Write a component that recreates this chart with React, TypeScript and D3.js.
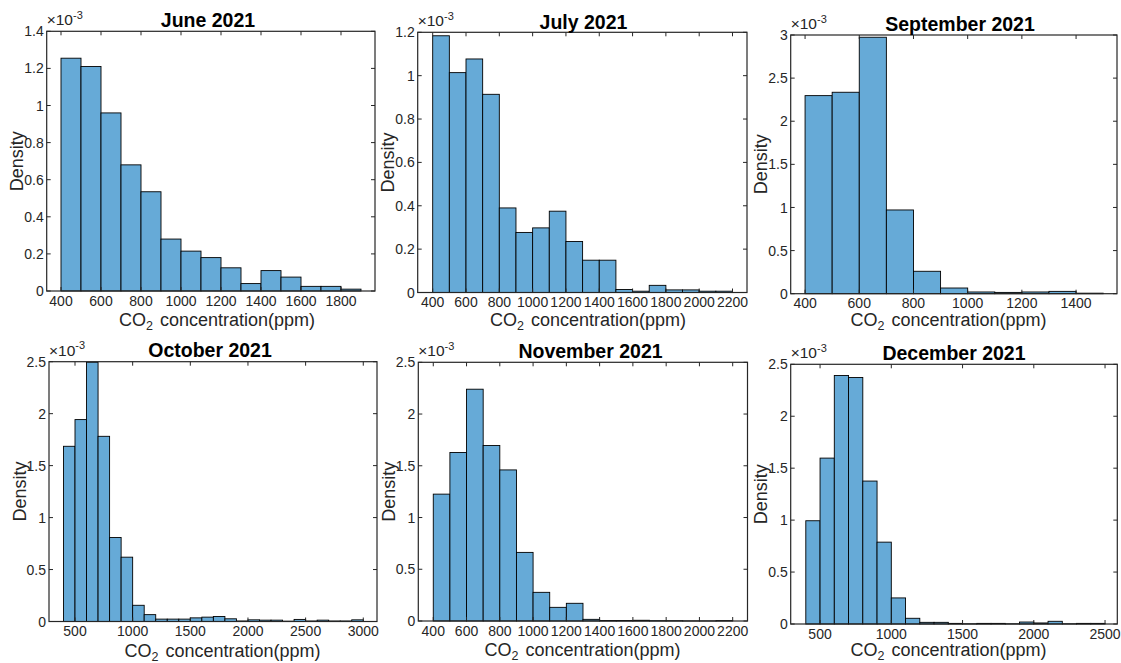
import React, { useEffect } from 'react';
import * as d3 from 'd3';

// Histogram bins: 100 ppm wide, starting at 400 ppm. Densities in units of 1e-3.
const BIN_START = 400;
const BIN_WIDTH = 100;

const juneDensity = [1.255, 1.21, 0.96, 0.68, 0.535, 0.28, 0.215, 0.18, 0.125, 0.04, 0.11, 0.075, 0.025, 0.025, 0.01];
const julyDensity = [1.184, 1.014, 1.077, 0.914, 0.39, 0.277, 0.298, 0.375, 0.235, 0.149, 0.149, 0.014, 0.006, 0.033, 0.012, 0.012, 0.006, 0.006];
const septemberDensity = [2.297, 2.336, 2.974, 0.971, 0.26, 0.066, 0.02, 0.015, 0.02, 0.027, 0.006];
const octoberDensity = [1.686, 1.943, 2.495, 1.782, 0.808, 0.619, 0.156, 0.066, 0.023, 0.023, 0.023, 0.035, 0.042, 0.048, 0.026, 0.005, 0.016, 0.013, 0.013, 0.003, 0.02, 0.005, 0.013, 0.005, 0.005, 0.016];
const novemberDensity = [1.226, 1.628, 2.24, 1.696, 1.46, 0.663, 0.277, 0.132, 0.171, 0.016, 0.005, 0.005, 0.007, 0.003, 0.003, 0.001, 0.001, 0.004];
const decemberDensity = [0.994, 1.597, 2.392, 2.373, 1.376, 0.788, 0.251, 0.055, 0.016, 0.016, 0.006, 0.002, 0.006, 0.006, 0.002, 0.019, 0.01, 0.026, 0.002, 0.006, 0.006];

const ticks400to1800 = [400, 600, 800, 1000, 1200, 1400, 1600, 1800];
const ticks400to2200 = [400, 600, 800, 1000, 1200, 1400, 1600, 1800, 2000, 2200];
const ticks400to1400 = [400, 600, 800, 1000, 1200, 1400];
const ticks500to3000 = [500, 1000, 1500, 2000, 2500, 3000];
const ticks500to2500 = [500, 1000, 1500, 2000, 2500];

const yTicksJune = [0, 0.2, 0.4, 0.6, 0.8, 1, 1.2, 1.4];
const yTicksJuly = [0, 0.2, 0.4, 0.6, 0.8, 1, 1.2];
const yTicksSep = [0, 0.5, 1, 1.5, 2, 2.5, 3];
const yTicks25 = [0, 0.5, 1, 1.5, 2, 2.5];

const titles = ['June 2021', 'July 2021', 'September 2021', 'October 2021', 'November 2021', 'December 2021'];

const FONT = '"Liberation Sans", Arial, Helvetica, sans-serif';
const AXIS = '#262626';
const FILL = '#66AAD7';

const panels = [
  { title: titles[0], data: juneDensity, box: { l: 46.7, r: 375, t: 31.3, b: 291 }, xDomain: [328.5, 1970], xTicks: ticks400to1800, yTicks: yTicksJune, titleX: 208, titleY: 26.8, xlabelX: 217, xlabelY: 325.5 },
  { title: titles[1], data: julyDensity, box: { l: 417.7, r: 747, t: 32.3, b: 292.5 }, xDomain: [310, 2287], xTicks: ticks400to2200, yTicks: yTicksJuly, titleX: 583.5, titleY: 29, xlabelX: 588, xlabelY: 325.5 },
  { title: titles[2], data: septemberDensity, box: { l: 790.7, r: 1117, t: 35, b: 293.7 }, xDomain: [347, 1551], xTicks: ticks400to1400, yTicks: yTicksSep, titleX: 960, titleY: 30.5, xlabelX: 948.5, xlabelY: 325.5 },
  { title: titles[3], data: octoberDensity, box: { l: 49, r: 377, t: 361.7, b: 621.5 }, xDomain: [274.5, 3119], xTicks: ticks500to3000, yTicks: yTicks25, titleX: 210, titleY: 357, xlabelX: 222.5, xlabelY: 657 },
  { title: titles[4], data: novemberDensity, box: { l: 418.3, r: 747.5, t: 362.3, b: 621 }, xDomain: [310, 2289], xTicks: ticks400to2200, yTicks: yTicks25, titleX: 590.5, titleY: 358, xlabelX: 582.5, xlabelY: 656 },
  { title: titles[5], data: decemberDensity, box: { l: 790.7, r: 1117.3, t: 364.3, b: 624 }, xDomain: [294, 2586], xTicks: ticks500to2500, yTicks: yTicks25, titleX: 954, titleY: 360, xlabelX: 948.5, xlabelY: 655.5 },
];

function Panel({ p }: { p: any }) {
  const { l, r, t, b } = p.box;
  const yMax = p.yTicks[p.yTicks.length - 1];
  const x = d3.scaleLinear().domain(p.xDomain).range([l, r]);
  const y = d3.scaleLinear().domain([0, yMax]).range([b, t]);
  const fmt = (v: number) => d3.format('~g')(v);
  const TL = 4;
  return (
    <g>
      {p.data.map((v: number, i: number) => {
        const x0 = x(BIN_START + i * BIN_WIDTH);
        const x1 = x(BIN_START + (i + 1) * BIN_WIDTH);
        return (
          <rect key={i} x={x0} y={y(v)} width={x1 - x0} height={y(0) - y(v)}
            fill={FILL} stroke="#000" strokeWidth={0.9} />
        );
      })}
      {/* x ticks */}
      {p.xTicks.map((tv: number) => (
        <g key={'x' + tv}>
          <line x1={x(tv)} x2={x(tv)} y1={b} y2={b - TL} stroke={AXIS} strokeWidth={1} />
          <line x1={x(tv)} x2={x(tv)} y1={t} y2={t + TL} stroke={AXIS} strokeWidth={1} />
          <text x={x(tv)} y={b + 14.5} textAnchor="middle" fontSize={14} fill={AXIS} fontFamily={FONT}>{fmt(tv)}</text>
        </g>
      ))}
      {/* y ticks */}
      {p.yTicks.map((tv: number) => (
        <g key={'y' + tv}>
          <line x1={l} x2={l + TL} y1={y(tv)} y2={y(tv)} stroke={AXIS} strokeWidth={1} />
          <line x1={r} x2={r - TL} y1={y(tv)} y2={y(tv)} stroke={AXIS} strokeWidth={1} />
          <text x={l - 3} y={y(tv)} dy="0.36em" textAnchor="end" fontSize={14} fill={AXIS} fontFamily={FONT}>{fmt(tv)}</text>
        </g>
      ))}
      <rect x={l} y={t} width={r - l} height={b - t} fill="none" stroke={AXIS} strokeWidth={1.2} />
      {/* exponent */}
      <text x={l} y={t - 6} fontSize={15.5} fill={AXIS} fontFamily={FONT}>
        ×10<tspan fontSize={11} dy={-6.5}>-3</tspan>
      </text>
      {/* title */}
      <text x={p.titleX} y={p.titleY} textAnchor="middle" fontSize={19.5} fontWeight="bold" fill="#000" fontFamily={FONT}>{p.title}</text>
      {/* x label */}
      <text x={p.xlabelX} y={p.xlabelY} textAnchor="middle" fontSize={18} fill={AXIS} fontFamily={FONT}>
        CO<tspan fontSize={12.5} dy={4}>2</tspan><tspan dy={-4} dx={7}>concentration(ppm)</tspan>
      </text>
      {/* y label */}
      <text transform={`translate(${l - 23.5},${(t + b) / 2}) rotate(-90)`} textAnchor="middle" fontSize={18} fill={AXIS} fontFamily={FONT}>Density</text>
    </g>
  );
}

export default function App() {
  useEffect(() => {
    document.body.style.margin = '0';
  }, []);
  return (
    <div style={{ position: 'absolute', left: 0, top: 0, width: 1121, height: 663, background: '#fff' }}>
      <svg width={1121} height={663} viewBox="0 0 1121 663" style={{ display: 'block' }}>
        <rect x={0} y={0} width={1121} height={663} fill="#fff" />
        {panels.map((p, i) => <Panel key={i} p={p} />)}
      </svg>
    </div>
  );
}
